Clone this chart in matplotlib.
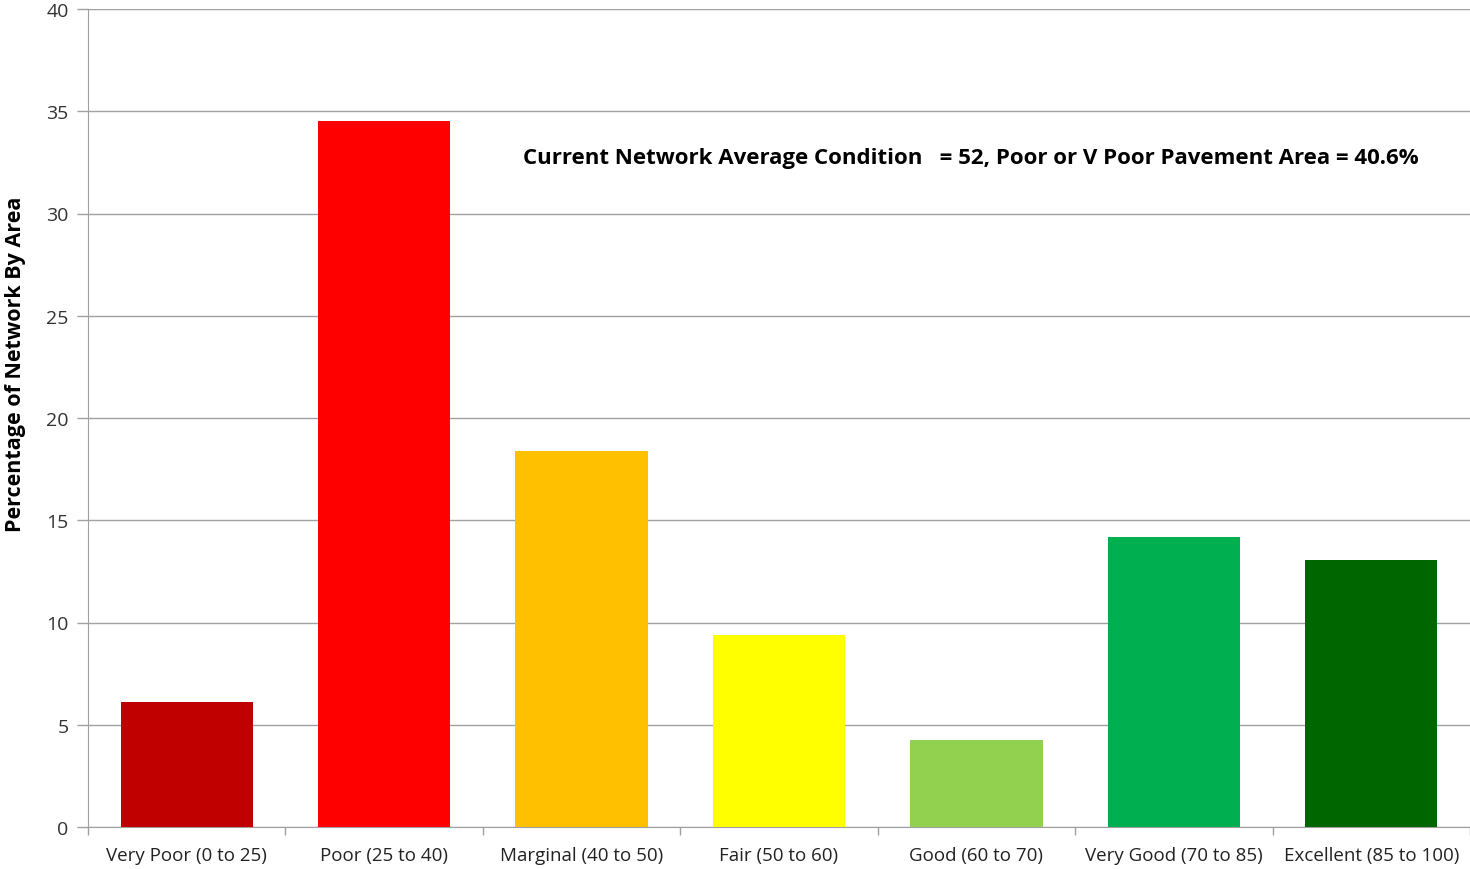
import numpy as np
import matplotlib.pyplot as plt

categories = ['Very Poor (0 to 25)', 'Poor (25 to 40)', 'Marginal (40 to 50)',
              'Fair (50 to 60)', 'Good (60 to 70)', 'Very Good (70 to 85)',
              'Excellent (85 to 100)']
values = [6.1, 34.5, 18.4, 9.4, 4.25, 14.2, 13.05]
colors = ['#C00000', '#FF0000', '#FFC000', '#FFFF00', '#92D050', '#00B050', '#006600']
y_ticks = [0, 5, 10, 15, 20, 25, 30, 35, 40]
note = 'Current Network Average Condition   = 52, Poor or V Poor Pavement Area = 40.6%'

plt.rcParams['font.family'] = ['Open Sans', 'DejaVu Sans']

fig = plt.figure(figsize=(14.7, 8.7), dpi=100)
ax = fig.add_axes([88 / 1470, 42 / 870, 1382 / 1470, 818 / 870])

x = np.arange(len(categories))
ax.bar(x, values, width=0.67, color=colors, zorder=3)

ax.set_xlim(-0.5, len(categories) - 0.5)
ax.set_ylim(0, 40)
ax.set_yticks(y_ticks)
ax.set_yticklabels([str(v) for v in y_ticks], fontsize=14, color='#333333')
ax.grid(axis='y', color='#A0A0A0', linewidth=1, zorder=0)

# category labels centred, tick marks on boundaries
ax.set_xticks(x)
ax.set_xticklabels(categories, fontsize=13.5, color='#222222')
ax.tick_params(axis='x', length=0, pad=14)
ax.set_xticks(np.arange(len(categories) + 1) - 0.5, minor=True)
ax.tick_params(axis='x', which='minor', length=6, color='#A0A0A0', width=1)
ax.tick_params(axis='y', length=8, color='#A0A0A0', width=1, pad=6)

for side in ['top', 'right']:
    ax.spines[side].set_visible(False)
for side in ['left', 'bottom']:
    ax.spines[side].set_color('#A0A0A0')

ax.set_ylabel('Percentage of Network By Area', fontsize=15.5, fontweight='bold')
ax.yaxis.set_label_coords(-0.045, 0.567)

ax.text(0.639, 0.819, note, transform=ax.transAxes, ha='center', va='center',
        fontsize=16, fontweight='bold', color='black')

fig.savefig('out.png', dpi=100)
